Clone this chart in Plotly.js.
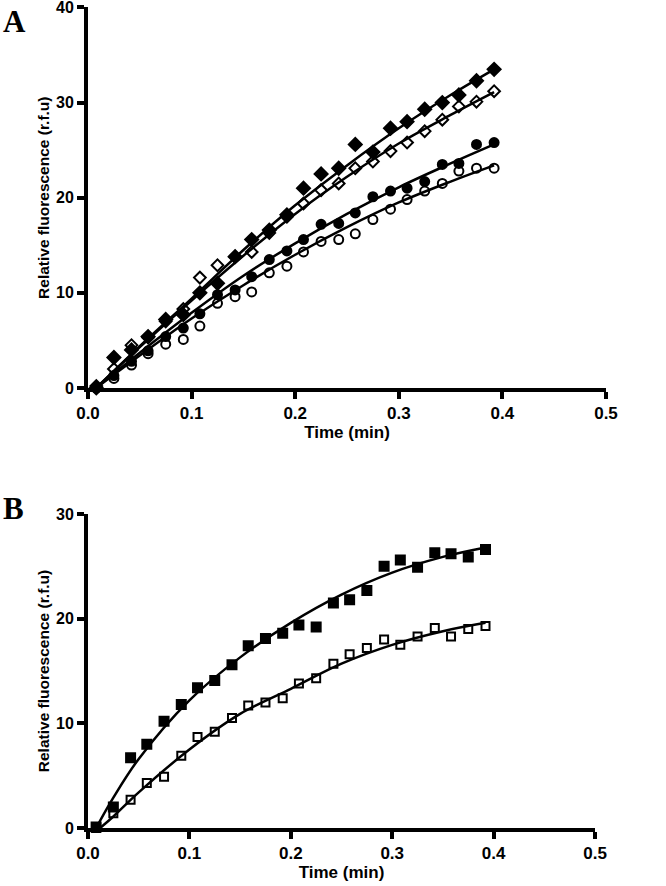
<!DOCTYPE html>
<html>
<head>
<meta charset="utf-8">
<script src="https://cdn.plot.ly/plotly-3.0.1.min.js"></script>
<style>html,body{margin:0;padding:0;background:#fff;}#chart{width:666px;height:886px;}</style>
</head>
<body>
<div id="chart"></div>
<script>
// Sampling times (min), one reading per second
var timeA = [0.008,0.025,0.042,0.058,0.075,0.092,0.108,0.125,0.142,0.158,0.175,0.192,0.208,0.225,0.242,0.258,0.275,0.292,0.308,0.325,0.342,0.358,0.375,0.392];
var timeB = [0.008,0.025,0.042,0.058,0.075,0.092,0.108,0.125,0.142,0.158,0.175,0.192,0.208,0.225,0.242,0.258,0.275,0.292,0.308,0.325,0.342,0.358,0.375,0.392];

// Panel A data
var filledDiamonds = [0.0,3.2,4.0,5.4,7.2,7.7,10.0,11.0,13.8,15.6,16.6,18.2,21.0,22.5,23.1,25.6,24.8,27.3,28.0,29.3,30.0,30.8,32.3,33.5];
var openDiamonds   = [0.2,2.0,4.5,5.3,7.0,8.3,11.6,12.9,13.8,14.3,16.3,18.0,19.4,20.8,21.5,23.1,23.8,24.9,25.8,27.0,28.2,29.6,30.1,31.2];
var filledCircles  = [0.0,1.3,2.8,3.9,5.4,6.3,7.8,9.8,10.3,11.7,13.5,14.4,15.6,17.2,17.3,18.4,20.1,20.7,21.0,21.7,23.5,23.6,25.6,25.8];
var openCircles    = [0.0,1.0,2.4,3.6,4.6,5.1,6.5,8.9,9.6,10.1,12.1,12.8,14.3,15.4,15.6,16.2,17.7,18.8,19.8,20.7,21.5,22.8,23.1,23.1];

// Panel A fitted curves
var fitTA = [0.008,0.05,0.1,0.15,0.2,0.25,0.3,0.35,0.392];
var fitFilledDiamonds = [0.0,4.4,9.4,14.5,19.2,23.4,27.3,30.8,33.5];
var fitOpenDiamonds   = [0.0,4.3,9.2,13.9,18.3,22.2,25.7,28.7,31.1];
var fitFilledCircles  = [0.0,3.7,7.9,11.8,15.2,18.3,21.1,23.6,25.6];
var fitOpenCircles    = [0.0,3.4,7.3,10.8,14.0,16.9,19.5,21.7,23.4];

// Panel B data
var filledSquares = [0.1,2.0,6.7,8.0,10.2,11.8,13.4,14.1,15.6,17.4,18.1,18.6,19.4,19.2,21.5,21.8,22.7,25.0,25.6,24.9,26.3,26.2,25.9,26.6];
var openSquares   = [0.0,1.4,2.7,4.3,4.9,6.9,8.7,9.2,10.5,11.7,12.0,12.4,13.8,14.3,15.7,16.6,17.2,18.0,17.5,18.3,19.1,18.3,19.0,19.3];

// Panel B fitted curves
var fitTB_filled = [0.008,0.025,0.05,0.1,0.15,0.2,0.25,0.3,0.35,0.392];
var fitFilledSquares = [0.0,2.9,6.6,12.2,16.3,19.6,22.3,24.4,25.9,26.8];
var fitTB_open = [0.012,0.025,0.05,0.1,0.15,0.2,0.25,0.3,0.35,0.392];
var fitOpenSquares = [0.0,1.1,3.4,7.5,10.9,13.3,15.7,17.5,18.8,19.6];

var xTicks = [0,0.1,0.2,0.3,0.4,0.5];
var xTickText = ['0.0','0.1','0.2','0.3','0.4','0.5'];
var yTicksA = [0,10,20,30,40];
var yTicksB = [0,10,20,30];

var fontF = 'Liberation Sans, Arial, sans-serif';

function pts(x, y, sym, size, ax) {
  return {x:x, y:y, type:'scatter', mode:'markers', xaxis:ax[0], yaxis:ax[1], cliponaxis:false,
    marker:{symbol:sym, size:size, color:'#000', line:{color:'#000', width:2}}, showlegend:false, hoverinfo:'skip'};
}
function fit(x, y, ax) {
  return {x:x, y:y, type:'scatter', mode:'lines', xaxis:ax[0], yaxis:ax[1], cliponaxis:false,
    line:{color:'#000', width:2.5, shape:'spline', smoothing:1}, showlegend:false, hoverinfo:'skip'};
}
var A = ['x','y'], B = ['x2','y2'];
var data = [
  fit(fitTA, fitFilledDiamonds, A), fit(fitTA, fitOpenDiamonds, A),
  fit(fitTA, fitFilledCircles, A), fit(fitTA, fitOpenCircles, A),
  pts(timeA, filledDiamonds, 'diamond', 10, A),
  pts(timeA, openDiamonds, 'diamond-open', 9, A),
  pts(timeA, filledCircles, 'circle', 9, A),
  pts(timeA, openCircles, 'circle-open', 9, A),
  fit(fitTB_filled, fitFilledSquares, B), fit(fitTB_open, fitOpenSquares, B),
  pts(timeB, filledSquares, 'square', 9, B),
  pts(timeB, openSquares, 'square-open', 8, B)
];

function xax(domain, anchor) {
  return {domain:domain, anchor:anchor, range:[0,0.5], tickvals:xTicks, ticktext:xTickText,
    showline:true, linecolor:'#000', linewidth:4, ticks:'outside', ticklen:7, tickwidth:4, tickcolor:'#000',
    ticklabeloverflow:'allow',
    showgrid:false, zeroline:false, tickfont:{family:fontF, size:17, color:'#000', weight:'bold'},
    title:{text:'Time (min)', font:{family:fontF, size:17, color:'#000', weight:'bold'}, standoff:4}};
}
function yax(domain, anchor, range, ticks) {
  return {domain:domain, anchor:anchor, range:range, tickvals:ticks,
    showline:true, linecolor:'#000', linewidth:4, ticks:'outside', ticklen:7, tickwidth:4, tickcolor:'#000',
    ticklabeloverflow:'allow',
    showgrid:false, zeroline:false, tickfont:{family:fontF, size:16, color:'#000', weight:'bold'},
    title:{text:'Relative fluorescence (r.f.u)', font:{family:fontF, size:15.5, color:'#000', weight:'bold'}, standoff:4}};
}

var layout = {
  width:666, height:886,
  margin:{l:88, r:60, t:7, b:58},
  paper_bgcolor:'#fff', plot_bgcolor:'#fff',
  showlegend:false,
  xaxis: xax([0,1], 'y'),
  yaxis: yax([0.536,0.9994], 'x', [0,40], yTicksA),
  xaxis2: xax([0,0.9788], 'y2'),
  yaxis2: yax([0,0.3825], 'x2', [0,30], yTicksB),
  annotations:[
    {text:'A', xref:'paper', yref:'paper', x:-0.168, y:1.006, xanchor:'left', yanchor:'top', showarrow:false,
     font:{family:'Liberation Serif, Times New Roman, serif', size:31, color:'#000', weight:'bold'}},
    {text:'B', xref:'paper', yref:'paper', x:-0.168, y:0.4135, xanchor:'left', yanchor:'top', showarrow:false,
     font:{family:'Liberation Serif, Times New Roman, serif', size:31, color:'#000', weight:'bold'}}
  ]
};

Plotly.newPlot('chart', data, layout, {displayModeBar:false, staticPlot:true});
</script>
</body>
</html>
